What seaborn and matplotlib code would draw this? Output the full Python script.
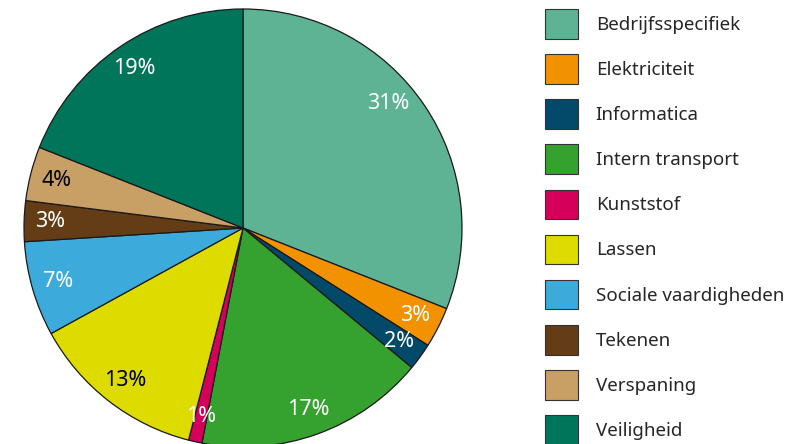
import matplotlib.pyplot as plt
import seaborn as sns
from matplotlib.patches import Patch

sns.set_style('white')
plt.rcParams['font.family'] = ['Noto Sans', 'DejaVu Sans']

categories = ['Bedrijfsspecifiek', 'Elektriciteit', 'Informatica',
              'Intern transport', 'Kunststof', 'Lassen',
              'Sociale vaardigheden', 'Tekenen', 'Verspaning', 'Veiligheid']
shares = [31, 3, 2, 17, 1, 13, 7, 3, 4, 19]
colors = ['#5db394', '#f39200', '#03496a', '#35a22f', '#d4005a',
          '#dddb00', '#3cabdc', '#643c16', '#c89f65', '#00755a']
label_colors = ['white', 'white', 'white', 'white', 'white',
                'black', 'white', 'white', 'black', 'white']

palette = sns.color_palette(colors)

fig = plt.figure(figsize=(8.07, 4.44), dpi=100)
ax = fig.add_axes([0, 0, 1, 1])

wedges, texts, autotexts = ax.pie(
    shares, colors=palette, startangle=90, counterclock=False,
    center=(243, 216), radius=219, frame=True,
    autopct=lambda p: f'{p:.0f}%', pctdistance=0.88,
    wedgeprops={'edgecolor': '#1a1a1a', 'linewidth': 0.9},
    textprops={'fontsize': 15.5})
ax.set_xlim(0, 807)
ax.set_ylim(0, 444)
ax.set_aspect('equal')
ax.axis('off')

for t, c in zip(autotexts, label_colors):
    t.set_color(c)
# the big slice's label sits a bit further round in the original
autotexts[0].set_position((388, 341))

handles = [Patch(facecolor=c, edgecolor='#333333', linewidth=0.8)
           for c in palette]
fig.legend(handles, categories, loc='upper left',
           bbox_to_anchor=(545 / 807, 1 - 9 / 444), frameon=False,
           fontsize=13.5, handlelength=1.75, handleheight=2.05,
           handletextpad=0.95, labelspacing=0.83, borderpad=0,
           borderaxespad=0)

fig.savefig('out.png', dpi=100)
